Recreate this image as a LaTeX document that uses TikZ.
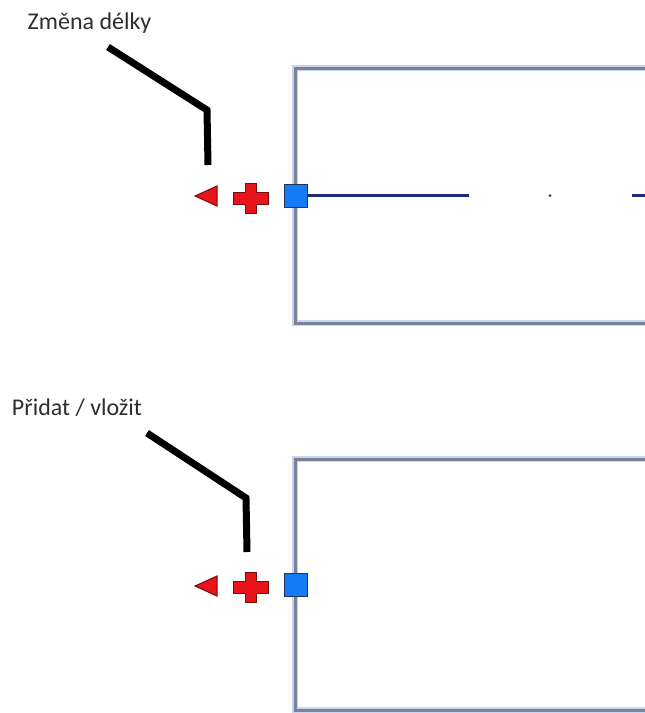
\documentclass[tikz,border=0pt]{standalone}
\usepackage{fontspec}
\setmainfont{Carlito}
\usepackage{xcolor}

\definecolor{framegray}{RGB}{120,132,150}
\definecolor{framehalo}{RGB}{200,212,240}
\definecolor{handleblue}{RGB}{22,124,245}
\definecolor{handleedge}{RGB}{30,50,90}
\definecolor{linenavy}{RGB}{30,45,120}
\definecolor{iconred}{RGB}{232,20,26}
\definecolor{iconedge}{RGB}{120,10,10}
\definecolor{labelgray}{RGB}{45,45,50}

\tikzset{
    frame/.style={draw=framegray, line width=3pt,
        preaction={draw=framehalo, line width=6pt}},
    handle/.style={draw=handleedge, fill=handleblue, line width=1pt, minimum size=23pt, inner sep=0pt},
    leader/.style={line width=7pt, black, miter limit=10},
    callout/.style={text=labelgray, font=\fontsize{24}{29}\selectfont, inner sep=0pt},
    redicon/.style={draw=iconedge, fill=iconred, line width=1pt, line join=miter},
    plus/.pic={
        \draw[redicon] (-5.5,-15) -- (5.5,-15) -- (5.5,-6) -- (17.5,-6) -- (17.5,6) -- (5.5,6)
            -- (5.5,15) -- (-5.5,15) -- (-5.5,6) -- (-17.5,6) -- (-17.5,-6) -- (-5.5,-6) -- cycle;
    },
    lefttri/.pic={
        \draw[redicon] (-11,0) -- (11,-10) -- (11,10) -- cycle;
    }
}

\begin{document}
\begin{tikzpicture}[x=1pt, y=-1pt]

    \useasboundingbox[fill=white] (0,0) rectangle (645,713);

    % Upper frame: change of length
    \draw[frame] (650,68) -- (295,68) -- (295,323) -- (650,323);
    \node[callout] (zmena) at (89.5,23) {Změna délky}; % label of the upper case
    \coordinate (lead1a) at (108,47);
    \coordinate (lead1b) at (207,110);
    \coordinate (lead1c) at (208,165);
    \draw[leader] (lead1a) -- (lead1b) -- (lead1c);
    \pic at (206,196) {lefttri};
    \pic at (250.5,198) {plus};
    \node[handle] (sq1) at (295.5,195.5) {};
    \coordinate (seg1) at (469,195.5);
    \draw[linenavy, line width=2.5pt] (sq1.east) -- (seg1);
    \fill[linenavy] (550,195.5) circle (1.5pt);
    \draw[linenavy, line width=2.5pt] (632,195.5) -- (650,195.5);

    % Lower frame: add / insert
    \draw[frame] (650,459) -- (295,459) -- (295,710) -- (650,710);
    \node[callout] (pridat) at (77,408) {Přidat / vložit}; % label of the lower case
    \coordinate (lead2a) at (147,433);
    \coordinate (lead2b) at (246,498);
    \coordinate (lead2c) at (247,552);
    \draw[leader] (lead2a) -- (lead2b) -- (lead2c);
    \pic at (206,586) {lefttri};
    \pic at (250.5,587.5) {plus};
    \node[handle] (sq2) at (295.5,584.5) {};

\end{tikzpicture}
\end{document}
